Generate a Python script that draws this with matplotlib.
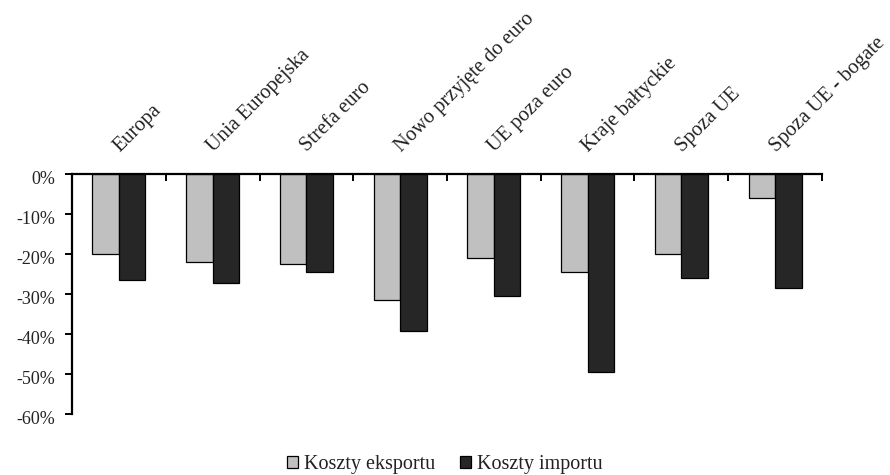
import matplotlib
matplotlib.use("Agg")
import matplotlib.pyplot as plt
import matplotlib.transforms as mtransforms
import numpy as np
from matplotlib.patches import Patch
from matplotlib.ticker import FuncFormatter

categories = ["Europa", "Unia Europejska", "Strefa euro", "Nowo przyjęte do euro",
              "UE poza euro", "Kraje bałtyckie", "Spoza UE", "Spoza UE - bogate"]
export_costs = [-20.0, -22.1, -22.6, -31.6, -21.0, -24.6, -20.0, -5.9]
import_costs = [-26.6, -27.2, -24.6, -39.2, -30.6, -49.6, -26.0, -28.6]
series_labels = ["Koszty eksportu", "Koszty importu"]
y_ticks = [0, -10, -20, -30, -40, -50, -60]

plt.rcParams["font.family"] = ["Liberation Serif", "DejaVu Serif"]

fig = plt.figure(figsize=(8.9, 4.75), dpi=100)
ax = fig.add_axes([72 / 890, 1 - 414 / 475, 750 / 890, 240 / 475])

x = np.arange(len(categories))
w = 0.283
c_exp = "#c0c0c0"
c_imp = "#262626"
ax.bar(x - w / 2, export_costs, width=w, color=c_exp, edgecolor="black", linewidth=0.9)
ax.bar(x + w / 2, import_costs, width=w, color=c_imp, edgecolor="black", linewidth=0.9)

ax.set_xlim(-0.5, len(categories) - 0.5)
ax.set_ylim(-60, 0)
ax.set_yticks(y_ticks)
ax.yaxis.set_major_formatter(FuncFormatter(lambda v, p: f"{int(round(v))}%"))
ax.tick_params(axis="y", direction="out", length=5, width=1.4, labelsize=13, pad=7,
               labelcolor="#222222")
shift = mtransforms.ScaledTranslation(0, -4 / 100, fig.dpi_scale_trans)
for lbl in ax.get_yticklabels():
    lbl.set_transform(lbl.get_transform() + shift)

# category boundaries as ticks on the zero line
ax.xaxis.tick_top()
ax.set_xticks(np.arange(len(categories) + 1) - 0.5)
ax.set_xticklabels([])
ax.tick_params(axis="x", direction="in", length=5, width=1.4)

for s in ["right", "bottom"]:
    ax.spines[s].set_visible(False)
for s in ["left", "top"]:
    ax.spines[s].set_linewidth(1.6)

for xi, name in zip(x, categories):
    ax.text(xi + 0.01, 1.09, name, transform=ax.get_xaxis_transform(),
            rotation=45, rotation_mode="anchor", ha="left", va="baseline",
            fontsize=14.8, color="#222222")

handles = [Patch(facecolor=c_exp, edgecolor="black", linewidth=0.9),
           Patch(facecolor=c_imp, edgecolor="black", linewidth=0.9)]
fig.legend(handles, series_labels, loc="center", bbox_to_anchor=(445 / 890, 1 - 465 / 475),
           ncol=2, frameon=False, fontsize=14.5, handlelength=0.55, handleheight=0.55,
           handletextpad=0.3, columnspacing=1.2, labelcolor="#222222")

fig.savefig("out.png", dpi=100)
